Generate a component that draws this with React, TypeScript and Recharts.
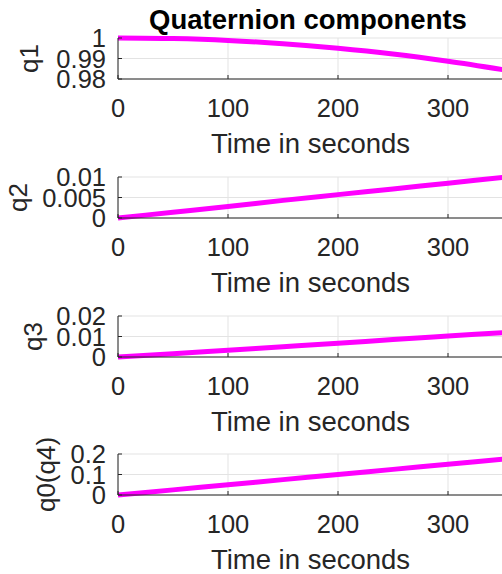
import React from 'react';
import { LineChart, Line, XAxis, YAxis, CartesianGrid, Label } from 'recharts';

const timeSec = [0, 50, 100, 150, 200, 250, 300, 350];
const q1 = [1, 0.9997, 0.9988, 0.9972, 0.995, 0.9922, 0.9887, 0.9846];
const q2 = [0, 0.0014, 0.0028, 0.0043, 0.0057, 0.0071, 0.0085, 0.0099];
const q3 = [0, 0.0016, 0.0033, 0.005, 0.0067, 0.0085, 0.0102, 0.0119];
const q4 = [0, 0.025, 0.05, 0.075, 0.1, 0.125, 0.15, 0.175];

const xTicks = [0, 100, 200, 300];
const q1Ticks = [0.98, 0.99, 1];
const q2Ticks = [0, 0.005, 0.01];
const q3Ticks = [0, 0.01, 0.02];
const q4Ticks = [0, 0.1, 0.2];

const FONT = '"Liberation Sans", Arial, sans-serif';
const INK = '#262626';
const PAD = 30;

// labelX is the baseline of the rotated y label
const panels = [
  { name: 'q1', values: q1, ticks: q1Ticks, top: 38, labelX: 38 },
  { name: 'q2', values: q2, ticks: q2Ticks, top: 177, labelX: 27 },
  { name: 'q3', values: q3, ticks: q3Ticks, top: 316, labelX: 42 },
  { name: 'q0(q4)', values: q4, ticks: q4Ticks, top: 454, labelX: 55 },
];

const Panel = ({ name, values, ticks, top, labelX }: any) => {
  const data = timeSec.map((t, i) => ({ t, v: values[i] }));
  return (
    <div style={{ position: 'absolute', left: 0, top: top - PAD }}>
      <LineChart width={510} height={PAD + 41 + 80} data={data} margin={{ top: PAD, right: 7, bottom: 0, left: 0 }}>
        <CartesianGrid stroke="#e3e3e3" strokeWidth={1} />
        <XAxis
          xAxisId="top"
          orientation="top"
          dataKey="t"
          type="number"
          domain={[0, 350]}
          ticks={xTicks}
          height={0}
          stroke={INK}
          tickSize={-4}
          tickFormatter={() => ''}
        />
        <XAxis
          dataKey="t"
          type="number"
          domain={[0, 350]}
          ticks={xTicks}
          height={80}
          stroke={INK}
          tickSize={-4}
          tickMargin={24}
          tick={{ fill: INK, fontSize: 25.5, fontFamily: FONT }}
        >
          <Label
            content={({ viewBox }: any) => (
              <text
                x={viewBox.x + viewBox.width / 2}
                y={viewBox.y + 64}
                textAnchor="middle"
                dominantBaseline="central"
                fill={INK}
                fontSize={27.5}
                fontFamily={FONT}
              >
                Time in seconds
              </text>
            )}
          />
        </XAxis>
        <YAxis
          type="number"
          domain={[ticks[0], ticks[2]]}
          ticks={ticks}
          width={118}
          stroke={INK}
          tickSize={-4}
          tickMargin={16}
          interval={0}
          tick={{ fill: INK, fontSize: 25.5, fontFamily: FONT }}
        >
          <Label
            content={({ viewBox }: any) => {
              const cy = viewBox.y + viewBox.height / 2;
              return (
                <text
                  x={labelX}
                  y={cy}
                  transform={`rotate(-90 ${labelX} ${cy})`}
                  textAnchor="middle"
                  fill={INK}
                  fontSize={26}
                  fontFamily={FONT}
                >
                  {name}
                </text>
              );
            }}
          />
        </YAxis>
        <Line
          type="monotone"
          dataKey="v"
          stroke="#ff00ff"
          strokeWidth={5}
          dot={false}
          isAnimationActive={false}
        />
      </LineChart>
    </div>
  );
};

export default function App() {
  return (
    <div
      style={{
        position: 'absolute',
        left: 0,
        top: 0,
        width: 502,
        height: 574,
        overflow: 'hidden',
        background: '#fff',
        fontFamily: FONT,
      }}
    >
      <div
        style={{
          position: 'absolute',
          left: 108,
          width: 400,
          top: 6,
          textAlign: 'center',
          fontSize: 27.5,
          lineHeight: '28px',
          fontWeight: 'bold',
          color: '#000',
        }}
      >
        Quaternion components
      </div>
      {panels.map((p) => (
        <Panel key={p.name} {...p} />
      ))}
    </div>
  );
}
